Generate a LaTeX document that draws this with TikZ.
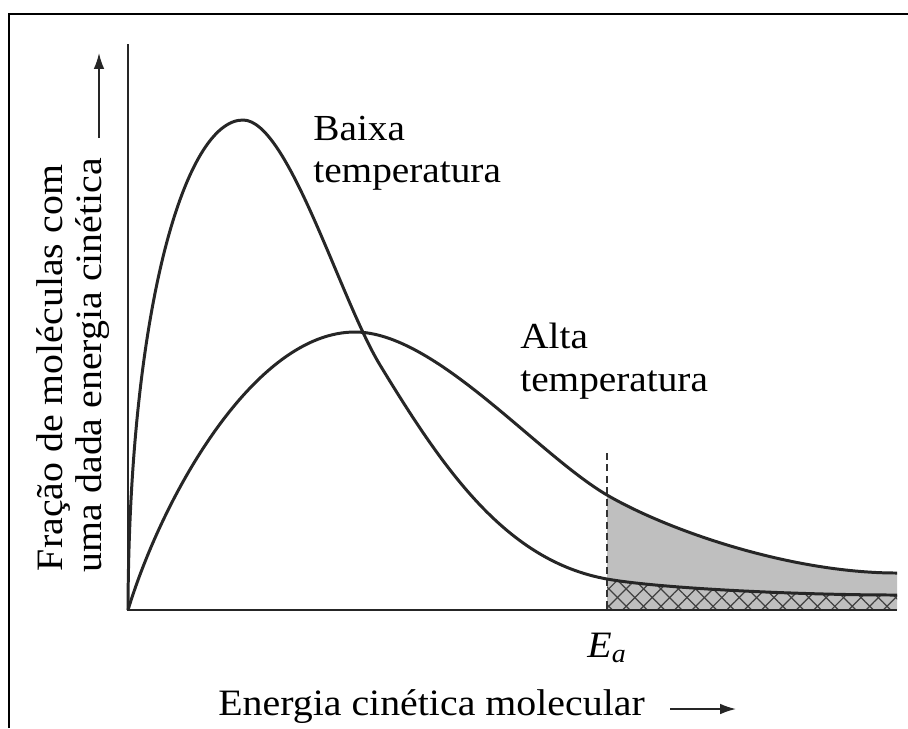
\documentclass[tikz,border=0pt]{standalone}
\usepackage{fontspec}
\setmainfont{Liberation Serif}[FakeStretch=1.07]
\usetikzlibrary{arrows.meta,patterns.meta}

\newcommand\LabFont{\fontsize{21.2}{23}\selectfont}
\newcommand\CurveFont{\fontsize{20.9}{24}\selectfont}

\begin{document}
\begin{tikzpicture}[x=0.02cm,y=-0.02cm,
        curve/.style={line width=1.7pt,black!85,line join=round},
        axis/.style={line width=1.2pt,black!85},
        arr/.style={line width=0.9pt,black!85,-{Latex[length=9pt,width=6pt]}},
        hatch/.style={pattern={Lines[angle=#1,distance=7pt,line width=0.7pt]},pattern color=black!75}]
        \useasboundingbox (0,0) rectangle (908,728);
        % frame
        \draw[line width=1.3pt] (9,728) -- (9,14) -- (908,14);
        % points
        \coordinate (O) at (128,610);
        \coordinate (ytop) at (128,44);
        \coordinate (xend) at (897,610);
        \coordinate (Ebot) at (607,610);
        \coordinate (Etop) at (607,453);
        \coordinate (lowpk) at (243,120);
        \coordinate (lowmid) at (380,365);
        \coordinate (lowE) at (607,579);
        \coordinate (lowend) at (897,595);
        \coordinate (highpk) at (355,332);
        \coordinate (highE) at (607,495);
        \coordinate (highend) at (897,573);
        % shaded tail
        \fill[gray!50] (highE) .. controls (667,530) and (790,573) .. (highend) -- (xend) -- (Ebot) -- cycle;
        \fill[hatch=45] (lowE) .. controls (660,588.5) and (800,595) .. (lowend) -- (xend) -- (Ebot) -- cycle;
        \fill[hatch=-45] (lowE) .. controls (660,588.5) and (800,595) .. (lowend) -- (xend) -- (Ebot) -- cycle;
        \draw[line width=0.9pt,black!80,dash pattern=on 4pt off 2.5pt] (Etop) -- (Ebot);
        % axes
        \draw[axis] (ytop) -- (O) -- (xend);
        % low temperature
        \draw[curve] (O) .. controls (129,310) and (185,120) .. (lowpk)
            .. controls (288,120) and (340,299) .. (lowmid)
            .. controls (445,472) and (507,561) .. (lowE)
            .. controls (660,588.5) and (800,595) .. (lowend);
        % high temperature
        \draw[curve] (O) .. controls (163,495) and (255,332) .. (highpk)
            .. controls (435,332) and (537,454) .. (highE)
            .. controls (667,530) and (790,573) .. (highend);
        % labels
        \node[anchor=north west,align=left,inner sep=0pt,font=\CurveFont] (baixa) at (313,116) {Baixa\\temperatura};
        \node[anchor=north west,align=left,inner sep=0pt,font=\CurveFont] (alta) at (520,323) {Alta\\temperatura};
        \node[anchor=base,font=\LabFont] (ea) at (607,657) {\textit{E}\textsubscript{\textit{a}}};
        \node[anchor=base west,inner sep=0pt,font=\LabFont] (xlab) at (218,715) {Energia cinética molecular};
        \node[anchor=base,rotate=90,font=\LabFont] (ylab1) at (62,368) {Fração de moléculas com};
        \node[anchor=base,rotate=90,font=\LabFont] (ylab2) at (101,365) {uma dada energia cinética};
        \coordinate (xarr1) at (670,709);
        \coordinate (xarr2) at (736,709);
        \draw[arr] (xarr1) -- (xarr2);
        \coordinate (yarr1) at (99,138);
        \coordinate (yarr2) at (99,53);
        \draw[arr] (yarr1) -- (yarr2);
\end{tikzpicture}
\end{document}
